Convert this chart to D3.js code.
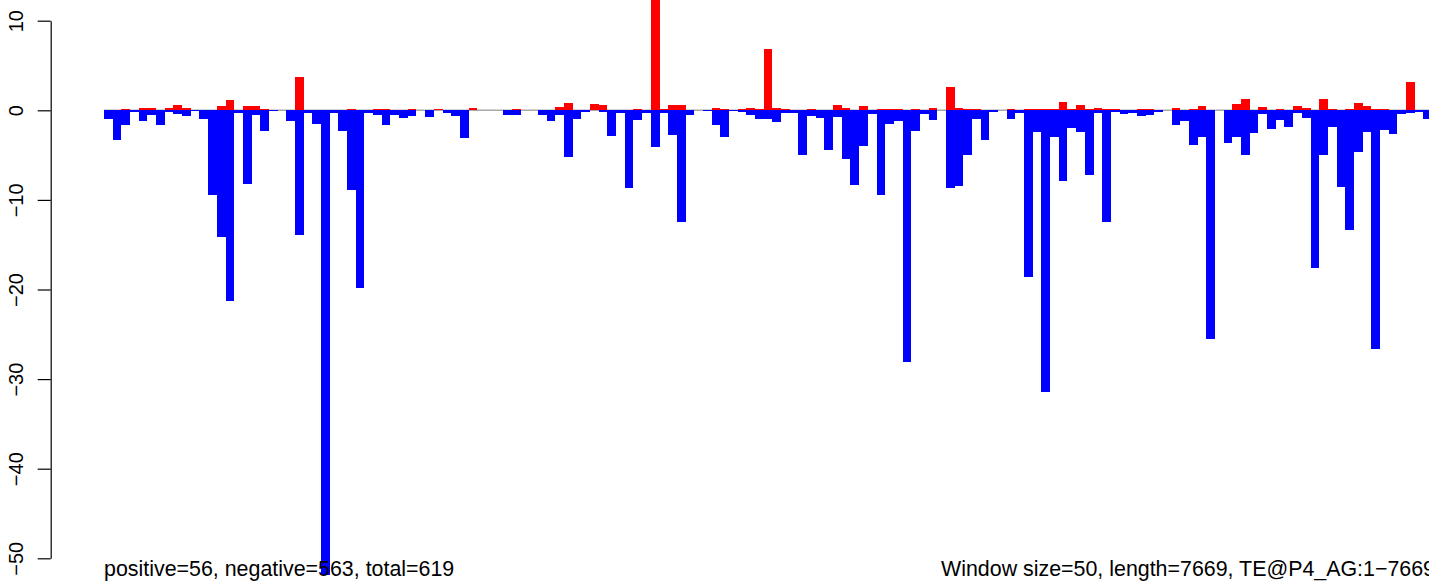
<!DOCTYPE html>
<html>
<head>
<meta charset="utf-8">
<script src="https://cdn.jsdelivr.net/npm/d3@7"></script>
<style>
  html, body { margin: 0; padding: 0; background: #fff; overflow: hidden; }
  svg { display: block; font-family: "Liberation Sans", Arial, Helvetica, sans-serif; }
</style>
</head>
<body>
<div id="chart"></div>
<script>
// === DATA (one value per 50bp window) ===
const positive = [
  0.07, 0.07, 0.18, 0, 0.3, 0.3, 0.07, 0.3, 0.63, 0.3,
  0, 0, 0, 0.52, 1.18, 0.07, 0.52, 0.52, 0.18, 0.07,
  0, 0, 3.75, 0, 0, 0, 0.07, 0.07, 0.18, 0,
  0.07, 0.18, 0.18, 0, 0, 0.18, 0, 0, 0.18, 0,
  0.07, 0, 0.3, 0, 0, 0, 0, 0.2, 0, 0,
  0, 0, 0.33, 0.78, 0, 0, 0.67, 0.55, 0, 0,
  0, 0.11, 0, 14, 0.11, 0.55, 0.55, 0, 0, 0,
  0.22, 0.2, 0, 0.1, 0.3, 0.18, 6.84, 0.3, 0.18, 0,
  0, 0.18, 0, 0, 0.63, 0.3, 0, 0.52, 0, 0.18,
  0.18, 0.18, 0, 0.18, 0.07, 0.3, 0, 2.62, 0.3, 0.11,
  0.18, 0, 0, 0, 0.11, 0, 0.18, 0.18, 0.18, 0.11,
  0.96, 0.11, 0.63, 0.11, 0.3, 0.11, 0.18, 0, 0, 0.18,
  0.18, 0, 0, 0.3, 0, 0.18, 0.52, 0, 0, 0,
  0.74, 1.29, 0, 0.41, 0.07, 0.18, 0.07, 0.52, 0.3, 0,
  1.29, 0.18, 0.07, 0.18, 0.85, 0.52, 0.18, 0.18, 0, 0.07,
  3.18, 0.07, 0
];

const negative = [
  -0.92, -3.33, -1.66, -0.22, -1.22, -0.52, -1.66, -0.22, -0.44, -0.67,
  -0.1, -0.92, -9.42, -14.19, -21.25, -0.3, -8.2, -0.52, -2.33, -0.1,
  0, -1.22, -13.97, -0.3, -1.55, -51.9, -0.3, -2.33, -8.87, -19.8,
  -0.3, -0.55, -1.66, -0.55, -0.89, -0.67, 0, -0.78, 0, -0.33,
  -0.67, -3.1, 0, 0, 0, 0, -0.55, -0.55, 0, 0,
  -0.52, -1.18, -0.52, -5.17, -0.96, -0.18, 0, -0.18, -2.85, -0.3,
  -8.72, -1.07, -0.3, -4.07, -0.3, -2.74, -12.5, -0.52, 0, -0.11,
  -1.63, -2.96, -0.11, -0.2, -0.55, -1.0, -1.0, -1.33, -0.33, -0.33,
  -4.99, -0.67, -0.89, -4.43, -0.78, -5.43, -8.3, -4.0, -0.44, -9.42,
  -1.55, -1.22, -28.06, -2.33, -0.44, -1.1, 0, -8.65, -8.43, -4.99,
  -1.0, -3.33, -0.22, 0, -1.0, -0.33, -18.57, -2.44, -31.4, -2.99,
  -7.87, -2.0, -2.44, -7.2, -0.33, -12.5, -0.22, -0.44, -0.33, -0.67,
  -0.55, -0.22, 0, -1.66, -1.22, -3.88, -2.99, -25.5, 0, -3.66,
  -2.99, -4.99, -2.55, -0.44, -2.1, -1.1, -1.88, -0.33, -0.89, -17.56,
  -4.99, -1.88, -8.54, -13.4, -4.66, -2.44, -26.6, -2.22, -2.66, -0.44,
  -0.33, -0.22, -1.0
];

const yTicks = [-50, -40, -30, -20, -10, 0, 10];
const nWindows = 154;   // ceil(7669 / 50)
const leftLabel = "positive=56, negative=563, total=619";
const rightLabel = "Window size=50, length=7669, TE@P4_AG:1\u22127669";

// === LAYOUT ===
const W = 1429, H = 581;
const xStart = 104, step = 8.68;

const svg = d3.select("#chart").append("svg")
  .attr("width", W)
  .attr("height", H);

const x = d3.scaleLinear()
  .domain([0, nWindows])
  .range([xStart, xStart + nWindows * step]);

const y = d3.scaleLinear()
  .domain([-50, 10])
  .range([558.3, 20.7]);

// zero line
svg.append("line")
  .attr("x1", x(0))
  .attr("x2", x(nWindows))
  .attr("y1", y(0))
  .attr("y2", y(0))
  .attr("stroke", "#a8a8a8")
  .attr("stroke-width", 1.6);

// negative bars (blue)
svg.append("g")
  .attr("shape-rendering", "crispEdges")
  .selectAll("rect")
  .data(negative)
  .join("rect")
  .attr("x", (d, i) => x(i))
  .attr("width", (d, i) => x(i + 1) - x(i))
  .attr("y", y(0))
  .attr("height", d => y(d) - y(0))
  .attr("fill", "#0000ff");

// positive bars (red)
svg.append("g")
  .attr("shape-rendering", "crispEdges")
  .selectAll("rect")
  .data(positive)
  .join("rect")
  .attr("x", (d, i) => x(i))
  .attr("width", (d, i) => x(i + 1) - x(i))
  .attr("y", d => y(d))
  .attr("height", d => y(0) - y(d))
  .attr("fill", "#ff0000");

// === Y AXIS (R style, rotated labels) ===
const yAxisG = svg.append("g")
  .attr("transform", "translate(50.7,0)")
  .call(
    d3.axisLeft(y)
      .tickValues(yTicks)
      .tickSize(13)
      .tickSizeOuter(0)
      .tickFormat(d => String(d).replace("-", "\u2212"))
  );

yAxisG.select(".domain").attr("stroke", "#000").attr("stroke-width", 1.2);
yAxisG.selectAll(".tick line").attr("stroke", "#000").attr("stroke-width", 1.2);
yAxisG.selectAll(".tick text")
  .attr("x", null)
  .attr("dy", null)
  .attr("transform", "translate(-28.2,0) rotate(-90)")
  .attr("text-anchor", "middle")
  .attr("fill", "#000")
  .style("font-size", "20px")
  .style("font-family", "'Liberation Sans', Arial, sans-serif");

// === BOTTOM TEXT ===
svg.append("text")
  .attr("x", 104)
  .attr("y", 576)
  .style("font-size", "21.4px")
  .attr("fill", "#000")
  .text(leftLabel);

svg.append("text")
  .attr("x", 941)
  .attr("y", 576)
  .style("font-size", "21.4px")
  .attr("fill", "#000")
  .text(rightLabel);
</script>
</body>
</html>
